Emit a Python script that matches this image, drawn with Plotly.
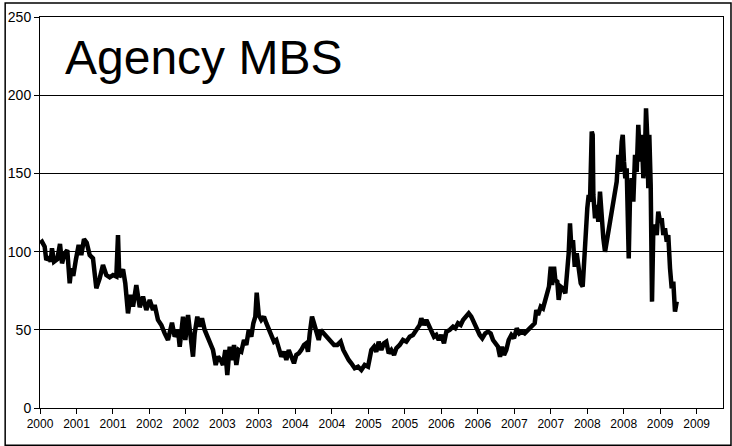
import plotly.graph_objects as go

# Decimal-year dates and Agency MBS spread values (bp)
years = [
    2000.500, 2000.527, 2000.564, 2000.586, 2000.619, 2000.647, 2000.664, 2000.692, 2000.737, 2000.774,
    2000.802, 2000.839, 2000.874, 2000.907, 2000.929, 2000.956, 2000.993, 2001.030, 2001.066, 2001.103,
    2001.140, 2001.181, 2001.226, 2001.272, 2001.318, 2001.363, 2001.409, 2001.455, 2001.500, 2001.546,
    2001.569, 2001.587, 2001.638, 2001.669, 2001.706, 2001.743, 2001.775, 2001.820, 2001.867, 2001.912,
    2001.957, 2002.004, 2002.049, 2002.072, 2002.117, 2002.163, 2002.209, 2002.254, 2002.309, 2002.346,
    2002.391, 2002.415, 2002.460, 2002.492, 2002.529, 2002.566, 2002.597, 2002.620, 2002.656, 2002.689,
    2002.720, 2002.757, 2002.793, 2002.826, 2002.871, 2002.908, 2002.940, 2002.977, 2003.008, 2003.040,
    2003.067, 2003.100, 2003.132, 2003.159, 2003.191, 2003.223, 2003.259, 2003.296, 2003.328, 2003.361,
    2003.396, 2003.424, 2003.451, 2003.470, 2003.498, 2003.533, 2003.570, 2003.602, 2003.635, 2003.670,
    2003.707, 2003.739, 2003.772, 2003.807, 2003.844, 2003.876, 2003.909, 2003.944, 2003.981, 2004.013,
    2004.046, 2004.081, 2004.118, 2004.150, 2004.173, 2004.197, 2004.228, 2004.255, 2004.287, 2004.320,
    2004.347, 2004.393, 2004.438, 2004.484, 2004.530, 2004.575, 2004.621, 2004.657, 2004.698, 2004.731,
    2004.767, 2004.813, 2004.859, 2004.904, 2004.950, 2004.996, 2005.019, 2005.041, 2005.078, 2005.109,
    2005.142, 2005.178, 2005.215, 2005.246, 2005.279, 2005.315, 2005.352, 2005.384, 2005.430, 2005.475,
    2005.521, 2005.567, 2005.612, 2005.658, 2005.704, 2005.726, 2005.763, 2005.795, 2005.828, 2005.863,
    2005.900, 2005.932, 2005.965, 2006.000, 2006.037, 2006.069, 2006.115, 2006.161, 2006.192, 2006.229,
    2006.266, 2006.298, 2006.343, 2006.376, 2006.411, 2006.448, 2006.480, 2006.527, 2006.562, 2006.603,
    2006.640, 2006.677, 2006.709, 2006.740, 2006.777, 2006.805, 2006.832, 2006.860, 2006.891, 2006.924,
    2006.960, 2006.997, 2007.034, 2007.069, 2007.106, 2007.143, 2007.189, 2007.234, 2007.280, 2007.302,
    2007.326, 2007.363, 2007.394, 2007.426, 2007.453, 2007.476, 2007.500, 2007.518, 2007.545, 2007.563,
    2007.590, 2007.609, 2007.637, 2007.668, 2007.700, 2007.727, 2007.746, 2007.764, 2007.782, 2007.805,
    2007.829, 2007.856, 2007.883, 2007.911, 2007.938, 2007.956, 2007.983, 2008.001, 2008.020, 2008.038,
    2008.062, 2008.075, 2008.084, 2008.107, 2008.130, 2008.152, 2008.175, 2008.199, 2008.221, 2008.244,
    2008.267, 2008.289, 2008.312, 2008.336, 2008.358, 2008.381, 2008.404, 2008.426, 2008.450, 2008.473,
    2008.487, 2008.504, 2008.522, 2008.541, 2008.569, 2008.587, 2008.610, 2008.632, 2008.655, 2008.678,
    2008.700, 2008.724, 2008.747, 2008.769, 2008.792, 2008.806, 2008.824, 2008.837, 2008.851, 2008.870,
    2008.888, 2008.906, 2008.929, 2008.953, 2008.974, 2008.998, 2009.021, 2009.043, 2009.066, 2009.090,
    2009.111, 2009.135, 2009.158, 2009.180, 2009.203, 2009.227,
]

spread = [
    105.3, 106.3, 103.1, 94.6, 96.7, 93.5, 102.1, 93.5, 95.1, 104.9,
    92.5, 98.9, 101.0, 79.7, 89.3, 84.4, 95.1, 104.2, 97.8, 107.9,
    105.7, 97.8, 95.7, 76.5, 82.9, 91.4, 85.0, 83.6, 85.0, 84.0,
    110.6, 83.6, 88.7, 79.7, 60.5, 72.3, 64.8, 78.6, 64.4, 71.2,
    62.7, 69.1, 62.7, 65.9, 56.3, 53.1, 47.7, 43.5, 54.5, 45.6,
    49.9, 39.2, 58.4, 43.5, 59.5, 41.4, 32.8, 47.7, 58.4, 52.0,
    57.4, 49.9, 45.6, 41.4, 37.1, 27.5, 32.8, 30.7, 27.5, 37.1,
    21.1, 39.2, 30.7, 40.3, 27.5, 37.1, 36.0, 43.5, 40.3, 49.9,
    45.6, 54.2, 58.4, 73.7, 59.5, 56.3, 58.4, 54.2, 51.0, 46.7,
    42.4, 43.5, 39.2, 32.8, 36.0, 30.7, 37.1, 31.8, 28.6, 33.9,
    35.0, 37.1, 40.3, 41.4, 36.0, 47.7, 58.4, 54.2, 48.8, 43.5,
    49.9, 47.7, 45.6, 43.5, 40.3, 40.3, 42.4, 37.1, 32.8, 30.7,
    28.6, 25.4, 26.4, 24.3, 27.5, 26.4, 31.8, 37.1, 39.2, 36.0,
    42.4, 37.1, 41.4, 42.4, 35.0, 37.1, 33.9, 38.2, 40.3, 43.5,
    42.4, 45.6, 46.7, 49.9, 53.1, 57.4, 53.1, 56.3, 53.1, 48.8,
    45.6, 46.7, 43.5, 46.7, 41.4, 48.8, 49.9, 52.0, 51.0, 54.2,
    53.1, 56.3, 58.4, 60.5, 58.4, 54.2, 51.0, 46.7, 44.6, 47.7,
    48.8, 47.7, 43.5, 41.4, 39.2, 32.8, 39.2, 33.9, 37.1, 43.5,
    46.7, 44.6, 51.0, 47.7, 48.8, 47.7, 49.9, 52.0, 54.2, 62.7,
    59.5, 64.8, 63.7, 69.1, 75.4, 77.6, 90.3, 78.6, 90.3, 81.8,
    80.8, 69.1, 77.6, 76.5, 73.3, 86.1, 98.9, 118.1, 103.1, 107.4,
    90.3, 98.9, 86.1, 79.7, 77.6, 95.7, 110.6, 127.7, 136.2, 131.9,
    176.7, 174.6, 136.2, 121.3, 129.8, 119.1, 138.3, 117.0, 108.5, 99.9,
    106.3, 112.7, 119.1, 125.5, 131.9, 136.2, 144.7, 161.8, 150.9, 170.3,
    174.6, 157.5, 146.9, 153.3, 95.7, 136.2, 146.9, 131.9, 161.8, 150.9,
    181.0, 157.5, 174.6, 146.9, 163.9, 191.6, 172.4, 140.5, 174.6, 142.6,
    68.0, 114.9, 117.0, 110.6, 125.5, 119.1, 121.3, 110.6, 114.9, 106.3,
    110.6, 89.3, 76.5, 80.8, 61.6, 68.0,
]

tick_labels = ["2000", "2001", "2001", "2002", "2002", "2003", "2003", "2004", "2004", "2005",
               "2005", "2006", "2006", "2007", "2007", "2008", "2008", "2009", "2009"]
tick_start = 2000.5
tick_step = 0.5
tick_vals = [tick_start + i * tick_step for i in range(len(tick_labels))]

title_text = "Agency MBS"
FONT = "Liberation Sans, Arial, sans-serif"

fig = go.Figure()
fig.add_trace(go.Scatter(
    x=years, y=spread, mode="lines",
    line=dict(color="black", width=4.5, shape="linear"),
    showlegend=False, hoverinfo="skip",
))

fig.update_layout(
    width=732, height=446,
    margin=dict(l=40, r=9, t=17, b=38, autoexpand=False),
    paper_bgcolor="white", plot_bgcolor="white",
    font=dict(family=FONT, color="black"),
    xaxis=dict(
        range=[2000.5, 2009.861], automargin=False,
        tickmode="array", tickvals=tick_vals, ticktext=tick_labels,
        ticks="outside", ticklen=5, tickcolor="black", tickwidth=1,
        showgrid=False, zeroline=False,
        showline=True, linecolor="black", linewidth=1, mirror=True,
        tickfont=dict(size=12, family=FONT, color="black"),
        fixedrange=True,
    ),
    yaxis=dict(
        range=[0, 250], tickmode="linear", tick0=0, dtick=50, automargin=False,
        ticks="outside", ticklen=5, tickcolor="black", tickwidth=1,
        showgrid=True, gridcolor="black", gridwidth=1,
        zeroline=False,
        showline=True, linecolor="black", linewidth=1, mirror=True,
        tickfont=dict(size=14, family=FONT, color="black"),
        fixedrange=True,
    ),
    annotations=[dict(
        text=title_text, xref="paper", yref="y",
        x=0.0336, y=224, xanchor="left", yanchor="middle",
        showarrow=False, font=dict(size=48, family=FONT, color="black"),
    )],
    shapes=[dict(
        type="rect", xref="paper", yref="paper",
        x0=-0.051, x1=1.0117, y0=-0.095, y1=1.0358,
        line=dict(color="black", width=1.5), fillcolor="rgba(0,0,0,0)",
        layer="above",
    )],
)

fig.write_html(
    "out.html",
    config={"displayModeBar": False, "staticPlot": True},
    post_script="document.body.style.margin='0';document.body.style.overflow='hidden';",
)
